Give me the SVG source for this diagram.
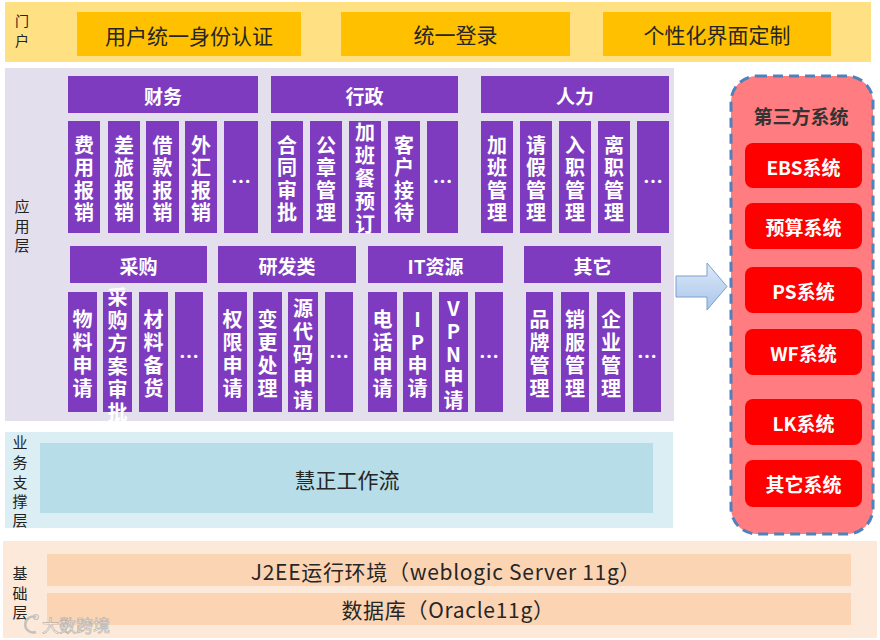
<svg xmlns="http://www.w3.org/2000/svg" width="880" height="640" viewBox="0 0 880 640">
<style>
text{font-family:"Microsoft YaHei","Noto Sans CJK SC","Liberation Sans",sans-serif}
.lbl{font-size:15px;fill:#222;text-anchor:middle;dominant-baseline:central}
.pt{font-size:21px;fill:#262626;text-anchor:middle;dominant-baseline:central}
.pb{fill:#FFC000}
.pu{fill:#7E3BBF}
.wt{font-size:19px;font-weight:bold;fill:#fff;text-anchor:middle;dominant-baseline:central}
.vt{font-size:20px;font-weight:bold;fill:#fff;text-anchor:middle;dominant-baseline:central}
.rb{fill:#FF0000}
.bt{font-size:21px;fill:#262626;text-anchor:middle;dominant-baseline:central}
.bl{letter-spacing:0.7px}
</style>
<defs>
<linearGradient id="ag" x1="0" y1="0" x2="0" y2="1">
<stop offset="0" stop-color="#DDE9F8"/>
<stop offset="1" stop-color="#A9C5EB"/>
</linearGradient>
</defs>
<rect width="880" height="640" fill="#fff"/>

<g id="portal">
<rect x="5" y="2" width="866" height="60" fill="#FFE083"/>
<text class="lbl" x="22" y="20" style="font-size:14px">门</text>
<text class="lbl" x="22" y="40" style="font-size:14px">户</text>
<g id="sso"><rect class="pb" x="77" y="12" width="224" height="44"/><text class="pt" x="189" y="35">用户统一身份认证</text></g>
<g id="login"><rect class="pb" x="341" y="12" width="229" height="44"/><text class="pt" x="455.5" y="34">统一登录</text></g>
<g id="ui"><rect class="pb" x="603" y="12" width="228" height="44"/><text class="pt" x="717" y="34">个性化界面定制</text></g>
</g>

<g id="app-layer">
<rect x="5" y="68" width="669" height="353" fill="#E4DFEC"/>
<text class="lbl" x="22" y="205">应</text>
<text class="lbl" x="22" y="225">用</text>
<text class="lbl" x="22" y="244">层</text>
</g>

<g id="caiwu">
<rect class="pu" x="68" y="76" width="190" height="37"/><text class="wt" x="163" y="95">财务</text>
<rect class="pu" x="68" y="121" width="32" height="112"/>
<text class="vt"><tspan x="84" y="143.5">费</tspan><tspan x="84" y="166">用</tspan><tspan x="84" y="188.5">报</tspan><tspan x="84" y="211">销</tspan></text>
<rect class="pu" x="108" y="121" width="32" height="112"/>
<text class="vt"><tspan x="124" y="143.5">差</tspan><tspan x="124" y="166">旅</tspan><tspan x="124" y="188.5">报</tspan><tspan x="124" y="211">销</tspan></text>
<rect class="pu" x="146" y="121" width="33" height="112"/>
<text class="vt"><tspan x="162.5" y="143.5">借</tspan><tspan x="162.5" y="166">款</tspan><tspan x="162.5" y="188.5">报</tspan><tspan x="162.5" y="211">销</tspan></text>
<rect class="pu" x="185" y="121" width="32" height="112"/>
<text class="vt"><tspan x="201" y="143.5">外</tspan><tspan x="201" y="166">汇</tspan><tspan x="201" y="188.5">报</tspan><tspan x="201" y="211">销</tspan></text>
<rect class="pu" x="224" y="121" width="34" height="112"/>
<text class="vt" x="241" y="180">…</text>
</g>

<g id="xingzheng">
<rect class="pu" x="271" y="76" width="187" height="37"/><text class="wt" x="364.5" y="95">行政</text>
<rect class="pu" x="271" y="121" width="32" height="112"/>
<text class="vt"><tspan x="287" y="143.5">合</tspan><tspan x="287" y="166">同</tspan><tspan x="287" y="188.5">审</tspan><tspan x="287" y="211">批</tspan></text>
<rect class="pu" x="310" y="121" width="32" height="112"/>
<text class="vt"><tspan x="326" y="143.5">公</tspan><tspan x="326" y="166">章</tspan><tspan x="326" y="188.5">管</tspan><tspan x="326" y="211">理</tspan></text>
<rect class="pu" x="349" y="121" width="32" height="112"/>
<text class="vt"><tspan x="365" y="131">加</tspan><tspan x="365" y="154">班</tspan><tspan x="365" y="177">餐</tspan><tspan x="365" y="200">预</tspan><tspan x="365" y="223">订</tspan></text>
<rect class="pu" x="388" y="121" width="32" height="112"/>
<text class="vt"><tspan x="404" y="143.5">客</tspan><tspan x="404" y="166">户</tspan><tspan x="404" y="188.5">接</tspan><tspan x="404" y="211">待</tspan></text>
<rect class="pu" x="427" y="121" width="31" height="112"/>
<text class="vt" x="442.5" y="180">…</text>
</g>

<g id="renli">
<rect class="pu" x="481" y="76" width="188" height="37"/><text class="wt" x="575" y="95">人力</text>
<rect class="pu" x="481" y="121" width="32" height="112"/>
<text class="vt"><tspan x="497" y="143.5">加</tspan><tspan x="497" y="166">班</tspan><tspan x="497" y="188.5">管</tspan><tspan x="497" y="211">理</tspan></text>
<rect class="pu" x="520" y="121" width="32" height="112"/>
<text class="vt"><tspan x="536" y="143.5">请</tspan><tspan x="536" y="166">假</tspan><tspan x="536" y="188.5">管</tspan><tspan x="536" y="211">理</tspan></text>
<rect class="pu" x="559" y="121" width="32" height="112"/>
<text class="vt"><tspan x="575" y="143.5">入</tspan><tspan x="575" y="166">职</tspan><tspan x="575" y="188.5">管</tspan><tspan x="575" y="211">理</tspan></text>
<rect class="pu" x="598" y="121" width="32" height="112"/>
<text class="vt"><tspan x="614" y="143.5">离</tspan><tspan x="614" y="166">职</tspan><tspan x="614" y="188.5">管</tspan><tspan x="614" y="211">理</tspan></text>
<rect class="pu" x="637" y="121" width="32" height="112"/>
<text class="vt" x="653" y="180">…</text>
</g>

<g id="caigou">
<rect class="pu" x="70" y="246" width="137" height="37"/><text class="wt" x="138.5" y="265">采购</text>
<rect class="pu" x="68" y="292" width="29" height="120"/>
<text class="vt"><tspan x="82.5" y="318">物</tspan><tspan x="82.5" y="341">料</tspan><tspan x="82.5" y="364">申</tspan><tspan x="82.5" y="387">请</tspan></text>
<rect class="pu" x="103" y="292" width="29" height="120"/>
<text class="vt"><tspan x="117.5" y="296">采</tspan><tspan x="117.5" y="319">购</tspan><tspan x="117.5" y="342">方</tspan><tspan x="117.5" y="365">案</tspan><tspan x="117.5" y="388">审</tspan><tspan x="117.5" y="411">批</tspan></text>
<rect class="pu" x="139" y="292" width="29" height="120"/>
<text class="vt"><tspan x="153.5" y="318">材</tspan><tspan x="153.5" y="341">料</tspan><tspan x="153.5" y="364">备</tspan><tspan x="153.5" y="387">货</tspan></text>
<rect class="pu" x="175" y="292" width="28" height="120"/>
<text class="vt" x="189" y="355">…</text>
</g>

<g id="yanfa">
<rect class="pu" x="218" y="246" width="138" height="37"/><text class="wt" x="287" y="265">研发类</text>
<rect class="pu" x="218" y="292" width="29" height="120"/>
<text class="vt"><tspan x="232.5" y="318">权</tspan><tspan x="232.5" y="341">限</tspan><tspan x="232.5" y="364">申</tspan><tspan x="232.5" y="387">请</tspan></text>
<rect class="pu" x="253" y="292" width="29" height="120"/>
<text class="vt"><tspan x="267.5" y="318">变</tspan><tspan x="267.5" y="341">更</tspan><tspan x="267.5" y="364">处</tspan><tspan x="267.5" y="387">理</tspan></text>
<rect class="pu" x="288" y="292" width="30" height="120"/>
<text class="vt"><tspan x="303" y="307">源</tspan><tspan x="303" y="330">代</tspan><tspan x="303" y="353">码</tspan><tspan x="303" y="376">申</tspan><tspan x="303" y="399">请</tspan></text>
<rect class="pu" x="325" y="292" width="28" height="120"/>
<text class="vt" x="339" y="355">…</text>
</g>

<g id="itres">
<rect class="pu" x="368" y="246" width="135" height="37"/><text class="wt" x="435.5" y="265">IT资源</text>
<rect class="pu" x="368" y="292" width="29" height="120"/>
<text class="vt"><tspan x="382.5" y="318">电</tspan><tspan x="382.5" y="341">话</tspan><tspan x="382.5" y="364">申</tspan><tspan x="382.5" y="387">请</tspan></text>
<rect class="pu" x="403" y="292" width="29" height="120"/>
<text class="vt"><tspan x="417.5" y="318">I</tspan><tspan x="417.5" y="341">P</tspan><tspan x="417.5" y="364">申</tspan><tspan x="417.5" y="387">请</tspan></text>
<rect class="pu" x="439" y="292" width="29" height="120"/>
<text class="vt"><tspan x="453.5" y="307">V</tspan><tspan x="453.5" y="330">P</tspan><tspan x="453.5" y="353">N</tspan><tspan x="453.5" y="376">申</tspan><tspan x="453.5" y="399">请</tspan></text>
<rect class="pu" x="475" y="292" width="28" height="120"/>
<text class="vt" x="489" y="355">…</text>
</g>

<g id="qita">
<rect class="pu" x="524" y="246" width="137" height="37"/><text class="wt" x="592.5" y="265">其它</text>
<rect class="pu" x="526" y="292" width="27" height="120"/>
<text class="vt"><tspan x="539.5" y="318">品</tspan><tspan x="539.5" y="341">牌</tspan><tspan x="539.5" y="364">管</tspan><tspan x="539.5" y="387">理</tspan></text>
<rect class="pu" x="561" y="292" width="28" height="120"/>
<text class="vt"><tspan x="575" y="318">销</tspan><tspan x="575" y="341">服</tspan><tspan x="575" y="364">管</tspan><tspan x="575" y="387">理</tspan></text>
<rect class="pu" x="597" y="292" width="28" height="120"/>
<text class="vt"><tspan x="611" y="318">企</tspan><tspan x="611" y="341">业</tspan><tspan x="611" y="364">管</tspan><tspan x="611" y="387">理</tspan></text>
<rect class="pu" x="633" y="292" width="28" height="120"/>
<text class="vt" x="647" y="355">…</text>
</g>

<g id="support-layer">
<rect x="5" y="432" width="668" height="96" fill="#DAEEF3"/>
<text class="lbl" x="20" y="441">业</text>
<text class="lbl" x="20" y="461">务</text>
<text class="lbl" x="20" y="481">支</text>
<text class="lbl" x="20" y="500">撑</text>
<text class="lbl" x="20" y="519">层</text>
<g id="workflow"><rect x="40" y="443" width="613" height="70" fill="#B7DDE8"/><text class="bt" x="347" y="479">慧正工作流</text></g>
</g>

<g id="base-layer">
<rect x="3" y="541" width="874" height="97" fill="#FDE9D9"/>
<text class="lbl" x="20" y="572">基</text>
<text class="lbl" x="20" y="592">础</text>
<text class="lbl" x="20" y="611">层</text>
<g id="j2ee"><rect x="47" y="554" width="804" height="32" fill="#FBD4B4"/><text class="bt bl" x="446" y="571">J2EE运行环境（weblogic Server 11g）</text></g>
<g id="db"><rect x="47" y="593" width="804" height="32" fill="#FBD4B4"/><text class="bt bl" x="448" y="609">数据库（Oracle11g）</text></g>
</g>

<g id="connectors">
<path d="M676,276 L707,276 L707,263 L727,286.5 L707,310 L707,297 L676,297 Z" fill="url(#ag)" stroke="#7BA0CD" stroke-width="1"/>
</g>

<g id="third-party">
<rect x="731" y="76" width="142" height="458" rx="26" ry="26" fill="#FF7C80" stroke="#4F81BD" stroke-width="3" stroke-dasharray="10,6"/>
<text x="801" y="115" font-size="19" font-weight="bold" fill="#333" text-anchor="middle" dominant-baseline="central">第三方系统</text>
<g id="ebs"><rect class="rb" x="745" y="143" width="117" height="45" rx="8"/><text class="wt" x="803.5" y="166">EBS系统</text></g>
<g id="budget"><rect class="rb" x="745" y="203" width="117" height="46" rx="8"/><text class="wt" x="803.5" y="226">预算系统</text></g>
<g id="ps"><rect class="rb" x="745" y="267" width="117" height="46" rx="8"/><text class="wt" x="803.5" y="290">PS系统</text></g>
<g id="wf"><rect class="rb" x="745" y="329" width="117" height="46" rx="8"/><text class="wt" x="803.5" y="352">WF系统</text></g>
<g id="lk"><rect class="rb" x="745" y="399" width="117" height="46" rx="8"/><text class="wt" x="803.5" y="422">LK系统</text></g>
<g id="other"><rect class="rb" x="745" y="460" width="117" height="47" rx="8"/><text class="wt" x="803.5" y="483">其它系统</text></g>
</g>

<g id="watermark" opacity="0.85">
<path d="M36,617 A8,8 0 1 0 36,632" fill="none" stroke="#bbb" stroke-width="2.5"/>
<circle cx="36" cy="617" r="2.5" fill="none" stroke="#bbb" stroke-width="1.2"/>
<text x="42" y="624" font-size="17" fill="#fff" stroke="#aaa" stroke-width="0.7" dominant-baseline="central">大数跨境</text>
</g>
</svg>
